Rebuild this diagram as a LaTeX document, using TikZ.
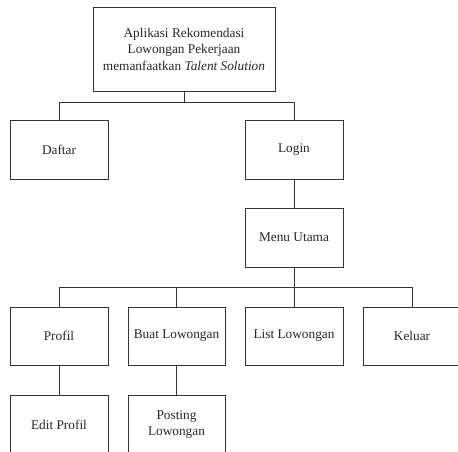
\documentclass[tikz,border=0pt]{standalone}
\usepackage{fontspec}
\setmainfont{Liberation Serif}
\begin{document}
\begin{tikzpicture}[x=1pt,y=-1pt,
  box/.style={draw=black!80, line width=0.9pt, rectangle, align=center, inner sep=1pt,
    minimum width=98pt, minimum height=59pt, font=\fontsize{13.3}{16.5}\selectfont, text=black!85},
  conn/.style={draw=black!80, line width=0.9pt}]
\useasboundingbox (0,0) rectangle (458,452);
\clip (0,0) rectangle (458,452);
\fill[white] (0,0) rectangle (458,452);
\node[box, minimum width=182pt, minimum height=84pt] (top) at (184,49)
  {Aplikasi Rekomendasi\\Lowongan Pekerjaan\\memanfaatkan \textit{Talent Solution}};
\node[box] (daftar) at (59,149.5) {Daftar};
\node[box] (login) at (294,149.5) {Login};
\node[box] (menu) at (294,237.5) {Menu Utama};
\node[box, minimum height=58pt] (profil) at (59,336) {Profil};
\node[box, minimum width=97pt, minimum height=58pt] (buat) at (176.5,336) {Buat Lowongan};
\node[box, minimum height=58pt] (list) at (294,336) {List Lowongan};
\node[box, minimum height=58pt] (keluar) at (412,336) {Keluar};
\node[box] (edit) at (59,424.5) {Edit Profil};
\node[box, minimum width=97pt] (posting) at (176.5,424.5) {Posting\\Lowongan};
\coordinate (b1) at (184,102);
\coordinate (b2) at (294,287);
\draw[conn] (top.south) -- (b1) -| (daftar.north);
\draw[conn] (b1) -| (login.north);
\draw[conn] (login.south) -- (menu.north);
\draw[conn] (menu.south) -- (b2) -| (profil.north);
\draw[conn] (b2) -| (buat.north);
\draw[conn] (b2) -- (list.north);
\draw[conn] (b2) -| (keluar.north);
\draw[conn] (profil.south) -- (edit.north);
\draw[conn] (buat.south) -- (posting.north);
\end{tikzpicture}
\end{document}
